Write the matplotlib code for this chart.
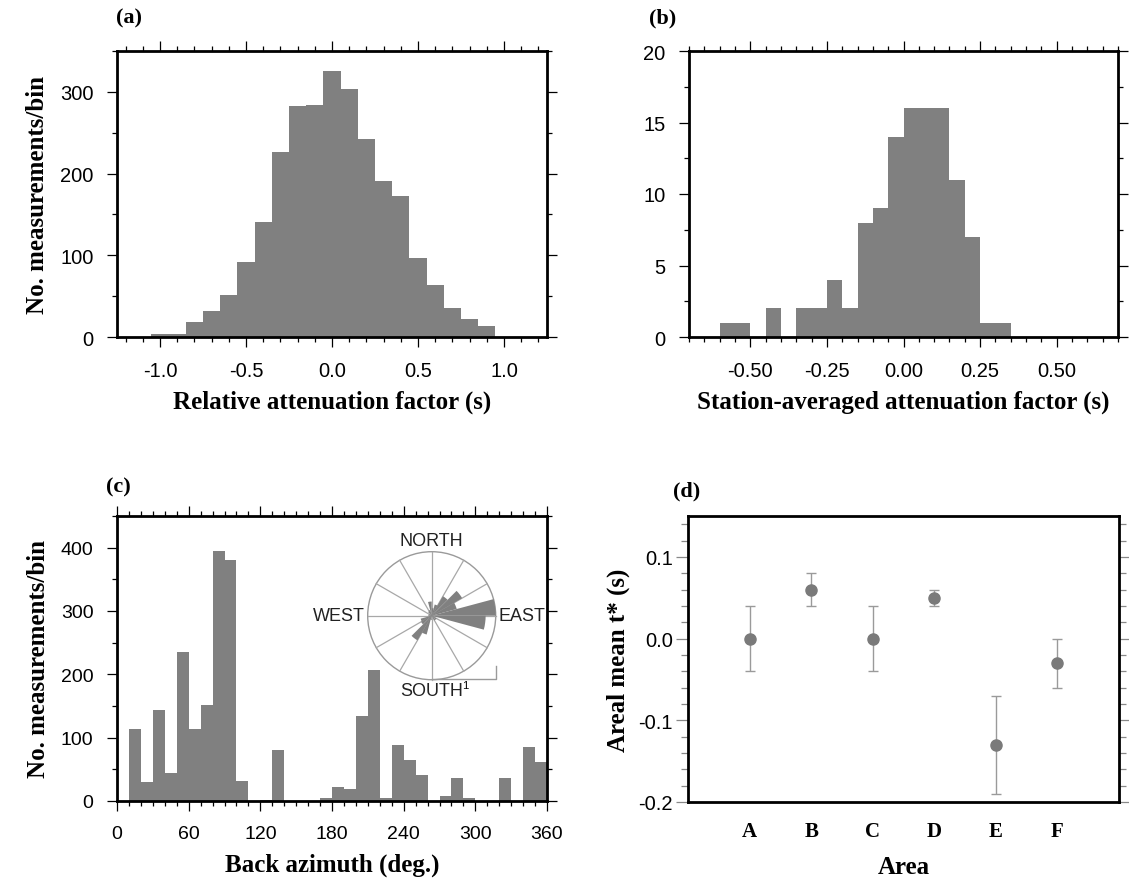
import numpy as np
import matplotlib.pyplot as plt
from matplotlib.patches import Wedge, Circle
from matplotlib.ticker import MultipleLocator

# (a) relative attenuation factor, 0.1 s bins (left edges)
a_left = [-1.05, -0.95, -0.85, -0.75, -0.65, -0.55, -0.45, -0.35, -0.25, -0.15,
          -0.05, 0.05, 0.15, 0.25, 0.35, 0.45, 0.55, 0.65, 0.75, 0.85]
a_counts = [4, 4, 18, 32, 51, 92, 141, 227, 283, 284,
            326, 303, 242, 191, 173, 97, 64, 36, 22, 14]

# (b) station-averaged attenuation factor, 0.05 s bins (left edges)
b_left = [-0.60, -0.55, -0.50, -0.45, -0.40, -0.35, -0.30, -0.25, -0.20, -0.15,
          -0.10, -0.05, 0.00, 0.05, 0.10, 0.15, 0.20, 0.25, 0.30]
b_counts = [1, 1, 0, 2, 0, 2, 2, 4, 2, 8, 9, 14, 16, 16, 16, 11, 7, 1, 1]

# (c) back azimuth, 10 deg bins (left edges)
c_left = [0, 10, 20, 30, 40, 50, 60, 70, 80, 90, 100, 110, 120, 130, 140, 150, 160, 170,
          180, 190, 200, 210, 220, 230, 240, 250, 260, 270, 280, 290, 300, 310, 320, 330, 340, 350]
c_counts = [0, 113, 30, 143, 45, 236, 114, 152, 394, 381, 31, 0, 2, 80, 0, 0, 0, 5,
            22, 19, 134, 207, 4, 88, 64, 41, 0, 8, 37, 5, 0, 0, 37, 0, 86, 61]

# rose inset, 15 deg sectors (start azimuth, count)
rose_az = [0, 15, 30, 45, 60, 75, 90, 105, 120, 135, 150, 165,
           180, 195, 210, 225, 240, 255, 270, 285, 300, 315, 330, 345]
rose_counts = [55, 85, 165, 258, 190, 470, 396, 16, 42, 40, 0, 5,
               32, 143, 209, 90, 84, 20, 26, 23, 0, 37, 43, 104]
rose_full = 470  # count reaching the outer circle

# (d) areal mean t*
areas = ["A", "B", "C", "D", "E", "F"]
t_mean = [0.0, 0.06, 0.0, 0.05, -0.13, -0.03]
t_low = [-0.04, 0.04, -0.04, 0.04, -0.19, -0.06]
t_high = [0.04, 0.08, 0.04, 0.06, -0.07, 0.0]

GREY = "#808080"
SANS = "Liberation Sans"
SERIF = "Liberation Serif"
plt.rcParams["font.family"] = SANS
plt.rcParams["axes.linewidth"] = 2.0

W, H = 1129, 879
fig = plt.figure(figsize=(W / 100, H / 100), dpi=100)


def box(l, t, r, b):
    return [l / W, 1 - b / H, (r - l) / W, (b - t) / H]


def style(ax, size=14.5):
    ax.tick_params(which="both", direction="out", top=True, right=True,
                   labelsize=size, pad=10, color="black", width=0.9)
    ax.tick_params(which="major", length=7)
    ax.tick_params(which="minor", length=3.5)


def xlab(ax, text, pad=7):
    ax.set_xlabel(text, family=SERIF, weight="bold", fontsize=18, labelpad=pad)


def ylab(ax, text, pad=8):
    ax.set_ylabel(text, family=SERIF, weight="bold", fontsize=18, labelpad=pad)


def panel(x, y, text):
    fig.text(x / W, 1 - y / H, text, family=SERIF, weight="bold",
             fontsize=16, va="center", ha="left")


# ---- (a)
ax1 = fig.add_axes(box(117, 52, 547, 338))
ax1.bar(a_left, a_counts, width=0.1, align="edge", color=GREY, linewidth=0)
ax1.set_xlim(-1.25, 1.25)
ax1.set_ylim(0, 350)
ax1.xaxis.set_major_locator(MultipleLocator(0.5))
ax1.xaxis.set_minor_locator(MultipleLocator(0.1))
ax1.yaxis.set_major_locator(MultipleLocator(100))
ax1.yaxis.set_minor_locator(MultipleLocator(50))
ax1.xaxis.set_major_formatter(lambda v, p: f"{v:.1f}")
style(ax1)
xlab(ax1, "Relative attenuation factor (s)")
ylab(ax1, "No. measurements/bin", pad=8)
panel(116, 18, "(a)")

# ---- (b)
ax2 = fig.add_axes(box(689, 52, 1118, 338))
ax2.bar(b_left, b_counts, width=0.05, align="edge", color=GREY, linewidth=0)
ax2.set_xlim(-0.7, 0.7)
ax2.set_ylim(0, 20)
ax2.xaxis.set_major_locator(MultipleLocator(0.25))
ax2.xaxis.set_minor_locator(MultipleLocator(0.05))
ax2.yaxis.set_major_locator(MultipleLocator(5))
ax2.yaxis.set_minor_locator(MultipleLocator(2.5))
ax2.xaxis.set_major_formatter(lambda v, p: f"{v:.2f}")
style(ax2)
# the right-hand ticks are faint in the original
for t in ax2.yaxis.get_major_ticks() + ax2.yaxis.get_minor_ticks():
    t.tick2line.set_color("#c8c8c8")
xlab(ax2, "Station-averaged attenuation factor (s)")
panel(649, 18, "(b)")

# ---- (c)
ax3 = fig.add_axes(box(117, 517, 547, 802))
ax3.bar(c_left, c_counts, width=10, align="edge", color=GREY, linewidth=0)
ax3.set_xlim(0, 360)
ax3.set_ylim(0, 450)
ax3.xaxis.set_major_locator(MultipleLocator(60))
ax3.xaxis.set_minor_locator(MultipleLocator(10))
ax3.yaxis.set_major_locator(MultipleLocator(100))
ax3.yaxis.set_minor_locator(MultipleLocator(50))
style(ax3, size=14)
xlab(ax3, "Back azimuth (deg.)", pad=8)
ylab(ax3, "No. measurements/bin", pad=8)
panel(106, 487, "(c)")

# rose inset, centred at (431.7, 616.7) px, radius 64 px
cx, cy, rad, ext = 431.7, 616.7, 64.0, 1.7
axr = fig.add_axes(box(cx - ext * rad, cy - ext * rad, cx + ext * rad, cy + ext * rad))
axr.set_xlim(-ext, ext)
axr.set_ylim(-ext, ext)
axr.axis("off")
axr.add_patch(Circle((0, 0), 1, fill=False, ec="#9a9a9a", lw=1.0, zorder=1))
for ang in range(0, 360, 30):
    axr.plot([0, np.sin(np.deg2rad(ang))], [0, np.cos(np.deg2rad(ang))],
             color="#a8a8a8", lw=0.9, zorder=1)
for az, n in zip(rose_az, rose_counts):
    if n > 0:
        axr.add_patch(Wedge((0, 0), n / rose_full, 90 - az - 15, 90 - az,
                            color=GREY, lw=0, zorder=2))
axr.plot([0, 1, 1], [-0.99, -0.99, -0.79], color="#9a9a9a", lw=1.0)
lab = dict(family=SANS, fontsize=13, color="#222222")
axr.text(0, 1.05, "NORTH", ha="center", va="bottom", **lab)
axr.text(0, -1.04, "SOUTH", ha="center", va="top", **lab)
axr.text(-1.04, 0, "WEST", ha="right", va="center", **lab)
axr.text(1.04, 0, "EAST", ha="left", va="center", **lab)
axr.text(0.52, -1.0, "1", ha="center", va="top", family=SANS, fontsize=8)

# ---- (d)
ax4 = fig.add_axes(box(688, 517, 1119, 803))
xs = np.arange(1, len(areas) + 1)
yerr = [np.array(t_mean) - np.array(t_low), np.array(t_high) - np.array(t_mean)]
ax4.errorbar(xs, t_mean, yerr=yerr, fmt="o", color="#7a7a7a", ms=8,
             ecolor="#9a9a9a", elinewidth=1.0, capsize=3.5, capthick=1.0)
ax4.set_xlim(0, 7)
ax4.set_ylim(-0.2, 0.15)
ax4.set_xticks(xs)
ax4.set_xticklabels(areas, family=SERIF, weight="bold", fontsize=15)
ax4.yaxis.set_major_locator(MultipleLocator(0.1))
ax4.yaxis.set_minor_locator(MultipleLocator(0.02))
ax4.yaxis.set_major_formatter(lambda v, p: f"{v:.1f}")
ax4.tick_params(axis="y", which="both", direction="out", left=True, right=True,
                labelsize=14.5, color="#888888", width=0.9, pad=2)
ax4.tick_params(axis="y", which="major", length=9)
ax4.tick_params(axis="y", which="minor", length=5)
ax4.tick_params(axis="x", length=0, pad=14)
xlab(ax4, "Area", pad=10)
ylab(ax4, "Areal mean t* (s)", pad=6)
panel(673, 491, "(d)")

fig.savefig("out.png", dpi=100)
